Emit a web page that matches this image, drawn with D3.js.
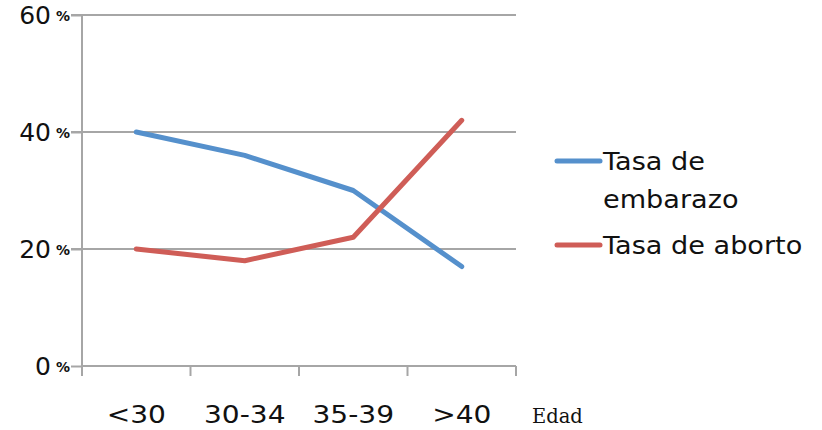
<!DOCTYPE html>
<html>
<head>
<meta charset="utf-8">
<script src="https://cdn.jsdelivr.net/npm/d3@7"></script>
<style>
  html, body { margin: 0; padding: 0; background: #fff; }
  svg { display: block; }
</style>
</head>
<body>
<svg id="chart" width="822" height="430"></svg>
<script>
// Age groups and rates (%)
const categories = ["<30", "30-34", "35-39", ">40"];
const embarazo = [40, 36, 30, 17];
const aborto = [20, 18, 22, 42];
const yTicks = [0, 20, 40, 60];
const seriesNames = ["Tasa de embarazo", "Tasa de aborto"];
const seriesColors = ["#5590cc", "#cf5d57"];

const svg = d3.select("#chart");
const plot = { left: 82, right: 516, top: 15, bottom: 366 };

const x = d3.scaleBand().domain(categories).range([plot.left, plot.right]);
const y = d3.scaleLinear().domain([0, 60]).range([plot.bottom, plot.top]);

const gridColor = "#a6a6a6";
const textColor = "#111";
const sans = "DejaVu Sans, Verdana, sans-serif";

// Horizontal gridlines
svg.append("g").selectAll("line")
  .data(yTicks.filter(d => d > 0))
  .join("line")
  .attr("x1", plot.left - 11).attr("x2", plot.right)
  .attr("y1", d => y(d)).attr("y2", d => y(d))
  .attr("stroke", gridColor).attr("stroke-width", 2);

// Y axis
const yAxis = svg.append("g")
  .attr("transform", `translate(${plot.left},0)`)
  .call(d3.axisLeft(y).tickValues(yTicks).tickSize(11).tickFormat(""));
yAxis.selectAll("path, line").attr("stroke", gridColor).attr("stroke-width", 2);
yAxis.select(".domain").attr("d", `M0,${plot.top}V${plot.bottom}`);

// Y labels: number plus a small percent sign
const yLab = svg.append("g");
yTicks.forEach(t => {
  const txt = yLab.append("text")
    .attr("x", 70).attr("y", y(t) + 9)
    .attr("text-anchor", "end")
    .attr("font-family", sans)
    .attr("fill", textColor);
  txt.append("tspan").attr("font-size", 25).text(t);
  txt.append("tspan").attr("font-size", 14).attr("font-weight", "bold")
    .attr("dx", 5).attr("dy", -3).text("%");
});

// X axis
const xAxis = svg.append("g")
  .attr("transform", `translate(0,${plot.bottom})`)
  .call(d3.axisBottom(x).tickSize(0).tickFormat(""));
xAxis.select(".domain").attr("d", `M${plot.left},0H${plot.right}`)
  .attr("stroke", gridColor).attr("stroke-width", 2);
const bounds = categories.map(c => x(c)).concat([plot.right]);
xAxis.selectAll(".bt").data(bounds).join("line").attr("class", "bt")
  .attr("x1", d => d).attr("x2", d => d).attr("y1", 0).attr("y2", 10)
  .attr("stroke", gridColor).attr("stroke-width", 2);

// Category labels, drawn slightly widened
svg.append("g").selectAll("text")
  .data(categories)
  .join("text")
  .attr("transform", d => `translate(${x(d) + x.bandwidth() / 2},423) scale(1.17,1)`)
  .attr("text-anchor", "middle")
  .attr("font-family", sans)
  .attr("font-size", 24)
  .attr("fill", textColor)
  .text(d => d);

svg.append("text")
  .attr("x", 532).attr("y", 423)
  .attr("font-family", "DejaVu Serif, Liberation Serif, serif")
  .attr("font-size", 19.5)
  .attr("fill", textColor)
  .text("Edad");

// Lines
const line = d3.line()
  .x((d, i) => x(categories[i]) + x.bandwidth() / 2)
  .y(d => y(d));

[embarazo, aborto].forEach((s, i) => {
  svg.append("path")
    .datum(s)
    .attr("d", line)
    .attr("fill", "none")
    .attr("stroke", seriesColors[i])
    .attr("stroke-width", 5)
    .attr("stroke-linecap", "round")
    .attr("stroke-linejoin", "round");
});

// Legend
const legend = svg.append("g").attr("font-family", sans)
  .attr("font-size", 24).attr("fill", textColor);
const legendRows = [
  { y: 161, lines: ["Tasa de", "embarazo"] },
  { y: 245, lines: ["Tasa de aborto"] }
];
legendRows.forEach((r, i) => {
  legend.append("line")
    .attr("x1", 557).attr("x2", 600)
    .attr("y1", r.y).attr("y2", r.y)
    .attr("stroke", seriesColors[i]).attr("stroke-width", 5)
    .attr("stroke-linecap", "round");
  const t = legend.append("text")
    .attr("transform", `translate(603,${r.y + 9}) scale(1.13,1)`);
  r.lines.forEach((l, j) => {
    t.append("tspan").attr("x", 0).attr("dy", j === 0 ? 0 : 38).text(l);
  });
});
</script>
</body>
</html>
